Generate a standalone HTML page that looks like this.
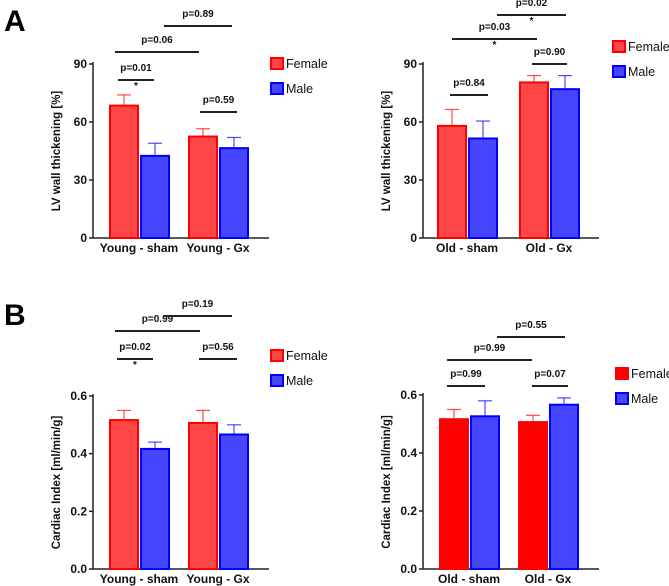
<!DOCTYPE html>
<html><head><meta charset="utf-8"><style>
html,body{margin:0;padding:0;background:#fff;}
svg{display:block;font-family:"Liberation Sans",sans-serif;}
</style></head><body>
<svg id="s" width="669" height="586" viewBox="0 0 669 586">
<text x="4" y="31" font-size="30" font-weight="bold">A</text>
<text x="4" y="325" font-size="30" font-weight="bold">B</text>
</svg>
<script>
const NS="http://www.w3.org/2000/svg";
const svg=document.getElementById('s');
// data
const groupsA1=["Young - sham","Young - Gx"];
const groupsA2=["Old - sham","Old - Gx"];
const femaleA1=[69,53], femaleErrA1=[74,56.5], maleA1=[43,47], maleErrA1=[49,52];
const femaleA2=[58.5,81], femaleErrA2=[66.5,84], maleA2=[52,77.5], maleErrA2=[60.5,84];
const femaleB1=[0.52,0.51], femaleErrB1=[0.55,0.55], maleB1=[0.42,0.47], maleErrB1=[0.44,0.50];
const femaleB2=[0.52,0.51], femaleErrB2=[0.55,0.53], maleB2=[0.53,0.57], maleErrB2=[0.58,0.59];
const ticksA=[0,30,60,90], ticksB=[0,0.2,0.4,0.6];
const tickLabelsA=["0","30","60","90"], tickLabelsB=["0.0","0.2","0.4","0.6"];

function el(t,a,name,parent){const e=document.createElementNS(NS,t);for(const k in a)e.setAttribute(k,a[k]);


(parent||svg).appendChild(e);return e;}
function txt(x,y,s,size,name,anchor,weight){const t=el('text',{x:x,y:y,'font-size':size,'font-weight':weight||'bold','text-anchor':anchor||'middle',fill:'#111'},name);t.textContent=s;return t;}

function panel(o){
  const y=v=>o.y0-(v/o.max)*(o.y0-o.yTop);
  el('line',{x1:o.ax,y1:o.yTop-2,x2:o.ax,y2:o.y0,stroke:'#222','stroke-width':1.5},'y-axis');
  el('line',{x1:o.ax,y1:o.y0,x2:o.ax+176,y2:o.y0,stroke:'#222','stroke-width':1.5},'x-axis');
  o.ticks.forEach((t,i)=>{el('line',{x1:o.ax-4,y1:y(t),x2:o.ax,y2:y(t),stroke:'#222','stroke-width':1.5},'y-tick');
    txt(o.ax-6,y(t)+4,o.tickLabels[i],12,'y-tick-label','end');});
  const yt=txt(0,0,o.ylabel,11.5,'y-axis-title');
  yt.setAttribute('transform',`translate(${o.ax-33},${(o.y0+o.yTop)/2}) rotate(-90)`);
  o.groups.forEach((g,i)=>{
    const gx=o.gx[i];
    const bars=[[o.f[i],o.fe[i],gx,o.fFill,'#f00','female'],[o.m[i],o.me[i],gx+31,'#4646ff','#00f','male']];
    bars.forEach(b=>{
      const top=y(b[0]);
      el('line',{x1:b[2]+15,y1:y(b[1]),x2:b[2]+15,y2:top,stroke:b[4],'stroke-width':1.2,opacity:0.7},b[5]+'-error-bar');
      el('line',{x1:b[2]+8,y1:y(b[1]),x2:b[2]+22,y2:y(b[1]),stroke:b[4],'stroke-width':1.2,opacity:0.7},b[5]+'-error-cap');
      el('rect',{x:b[2]+1,y:top+1,width:28,height:o.y0-top-1,fill:b[3],stroke:b[4],'stroke-width':2},b[5]+'-bar-'+i);
    });
    txt(gx+30,o.y0+14,g,12,'x-tick-label');
  });
  o.br.forEach(b=>{el('line',{x1:b[0],y1:b[2],x2:b[1],y2:b[2],stroke:'#222','stroke-width':2},'significance-bracket');
    txt((b[0]+b[1])/2,b[2]-9,b[3],10,'p-value-label');
    if(b[4])txt((b[0]+b[1])/2,b[2]+9,'*',10,'significance-star');});
  el('rect',{x:o.lx,y:o.ly,width:12,height:11,fill:o.fFill,stroke:'#f00','stroke-width':2},'legend-female-swatch');
  txt(o.lx+15,o.ly+10,'Female',12.5,'legend-female-label','start','normal');
  el('rect',{x:o.lx,y:o.ly+25,width:12,height:11,fill:'#4646ff',stroke:'#00f','stroke-width':2},'legend-male-swatch');
  txt(o.lx+15,o.ly+35,'Male',12.5,'legend-male-label','start','normal');
}
panel({ax:93,y0:238,yTop:64,max:90,ticks:ticksA,tickLabels:tickLabelsA,ylabel:'LV wall thickening [%]',groups:groupsA1,gx:[109,188],
 f:femaleA1,fe:femaleErrA1,m:maleA1,me:maleErrA1,fFill:'#ff4646',lx:271,ly:58,
 br:[[118,154,80,'p=0.01',1],[115,199,52,'p=0.06'],[164,232,26,'p=0.89'],[200,237,112,'p=0.59']]});
panel({ax:423,y0:238,yTop:64,max:90,ticks:ticksA,tickLabels:tickLabelsA,ylabel:'LV wall thickening [%]',groups:groupsA2,gx:[437,519],
 f:femaleA2,fe:femaleErrA2,m:maleA2,me:maleErrA2,fFill:'#ff4646',lx:613,ly:41,
 br:[[450,488,95,'p=0.84'],[532,567,64,'p=0.90'],[452,537,39,'p=0.03',1],[497,566,15,'p=0.02',1]]});
panel({ax:93,y0:569,yTop:396,max:0.6,ticks:ticksB,tickLabels:tickLabelsB,ylabel:'Cardiac Index [ml/min/g]',groups:groupsA1,gx:[109,188],
 f:femaleB1,fe:femaleErrB1,m:maleB1,me:maleErrB1,fFill:'#ff4646',lx:271,ly:350,
 br:[[117,153,359,'p=0.02',1],[115,200,331,'p=0.99'],[163,232,316,'p=0.19'],[199,237,359,'p=0.56']]});
panel({ax:423,y0:569,yTop:395,max:0.6,ticks:ticksB,tickLabels:tickLabelsB,ylabel:'Cardiac Index [ml/min/g]',groups:groupsA2,gx:[439,518],
 f:femaleB2,fe:femaleErrB2,m:maleB2,me:maleErrB2,fFill:'#ff0000',lx:616,ly:368,
 br:[[447,485,386,'p=0.99'],[447,532,360,'p=0.99'],[497,565,337,'p=0.55'],[532,568,386,'p=0.07']]});
</script>
</body></html>
